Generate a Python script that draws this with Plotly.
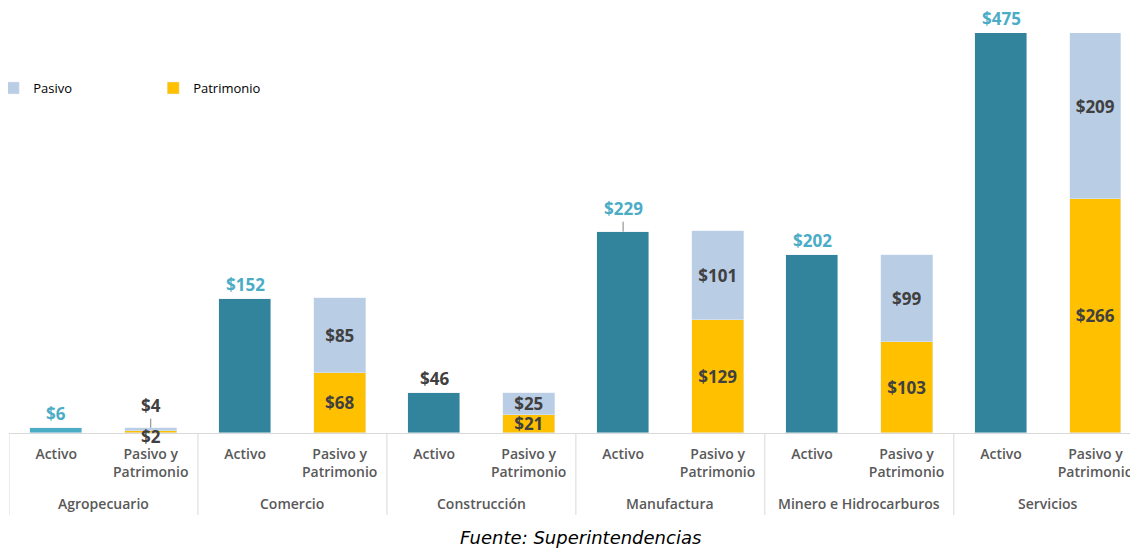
import plotly.graph_objects as go

# ---- data ----
sectores = ["Agropecuario", "Comercio", "Construcción", "Manufactura",
            "Minero e Hidrocarburos", "Servicios"]
sub_labels = ["Activo", "Pasivo y<br>Patrimonio"]
activo = [6, 152, 46, 229, 202, 475]
pasivo = [4, 85, 25, 101, 99, 209]
patrimonio = [2, 68, 21, 129, 103, 266]
fuente = "Fuente: Superintendencias"

# ---- styles ----
TEAL = "#31849B"
TEAL_LIGHT = "#4BACC6"
PASIVO_C = "#B9CDE5"
PATRIM_C = "#FFC000"
DARK = "#404040"
AXIS_TXT = "#595959"
GRID = "#D9D9D9"
YMAX = 455
BAR_W = 0.55
activo_colors = [TEAL_LIGHT, TEAL, TEAL, TEAL, TEAL, TEAL]
activo_label_colors = [TEAL_LIGHT, TEAL_LIGHT, DARK, TEAL_LIGHT, TEAL_LIGHT, TEAL_LIGHT]
activo_leader = [0, 0, 0, 10, 0, 0]

n = len(sectores)
x_act = [2 * i for i in range(n)]
x_pp = [2 * i + 1 for i in range(n)]

val_font = dict(family="Open Sans", size=17, color=DARK, weight=700)

fig = go.Figure()
fig.add_trace(go.Bar(x=x_act, y=activo, marker_color=activo_colors, width=BAR_W,
                     showlegend=False, hoverinfo="skip"))
pat_text = ["" if i == 0 else f"${v}" for i, v in enumerate(patrimonio)]
pas_text = ["" if i == 0 else f"${v}" for i, v in enumerate(pasivo)]
fig.add_trace(go.Bar(x=x_pp, y=patrimonio, marker_color=PATRIM_C, width=BAR_W,
                     name="Patrimonio", legendrank=2, text=pat_text,
                     textposition="inside", insidetextanchor="middle",
                     insidetextfont=val_font, hoverinfo="skip"))
fig.add_trace(go.Bar(x=x_pp, y=pasivo, marker_color=PASIVO_C, width=BAR_W,
                     name="Pasivo", legendrank=1, text=pas_text,
                     textposition="inside", insidetextanchor="middle",
                     insidetextfont=val_font, hoverinfo="skip"))

annotations = []
for i, v in enumerate(activo):
    yv = min(v, YMAX)
    lf = dict(val_font, color=activo_label_colors[i])
    if activo_leader[i]:
        annotations.append(dict(x=x_act[i], y=yv, xref="x", yref="y", text=f"${v}",
                                showarrow=True, arrowhead=0, arrowwidth=1,
                                arrowcolor="#808080", ax=0, ay=-activo_leader[i],
                                yanchor="bottom", font=lf))
    else:
        annotations.append(dict(x=x_act[i], y=yv, xref="x", yref="y", text=f"${v}",
                                showarrow=False, yanchor="bottom", yshift=1, font=lf))
# Agropecuario stacked labels (too small to fit inside)
annotations.append(dict(x=x_pp[0], y=pasivo[0] + patrimonio[0], xref="x", yref="y",
                        text=f"${pasivo[0]}", showarrow=True, arrowhead=0, arrowwidth=1,
                        arrowcolor="#808080", ax=0, ay=-9, yanchor="bottom",
                        font=val_font))
annotations.append(dict(x=x_pp[0], y=0, xref="x", yref="y", text=f"${patrimonio[0]}",
                        showarrow=False, yanchor="middle", yshift=-3, font=val_font))
# group labels
for i, s in enumerate(sectores):
    annotations.append(dict(x=2 * i + 0.5, y=-0.175, xref="x", yref="paper", text=s,
                            showarrow=False, yanchor="middle",
                            font=dict(family="Open Sans", size=14, color=AXIS_TXT, weight=600)))
annotations.append(dict(xref="paper", yref="paper", x=0.506, y=-0.26, text=fuente,
                        showarrow=False, yanchor="middle", xanchor="center",
                        font=dict(family="DejaVu Sans", size=18, color="#000000",
                                  style="italic")))

shapes = []
for i in range(n + 1):
    shapes.append(dict(type="line", xref="x", yref="paper", x0=2 * i - 0.5, x1=2 * i - 0.5,
                       y0=0, y1=-0.205, line=dict(color=GRID, width=1)))

# page has an 8px body margin; figure is sized/offset to compensate
fig.update_layout(
    width=1130, height=540,
    margin=dict(l=1, r=0, t=25, b=115, autoexpand=False),
    plot_bgcolor="white", paper_bgcolor="white",
    barmode="stack", bargap=0,
    showlegend=True,
    legend=dict(orientation="h", x=-0.014, y=(433 - 88) / 400,
                xanchor="left", yanchor="middle", bgcolor="rgba(0,0,0,0)",
                entrywidth=115, entrywidthmode="pixels", traceorder="normal",
                font=dict(family="Open Sans", size=13, color="#000000")),
    uniformtext=dict(minsize=17, mode="show"),
    annotations=annotations,
    shapes=shapes,
    xaxis=dict(range=[-0.5, 11.45], tickvals=x_act + x_pp,
               ticktext=[sub_labels[0]] * n + [sub_labels[1]] * n,
               showgrid=False, zeroline=False, showline=True, linecolor=GRID,
               linewidth=1, ticks="", ticklabelstandoff=8, automargin=False,
               tickfont=dict(family="Open Sans", size=14, color=AXIS_TXT, weight=600)),
    yaxis=dict(range=[0, YMAX], visible=False, showgrid=False, zeroline=False,
               automargin=False),
)

fig.write_html("out.html")
